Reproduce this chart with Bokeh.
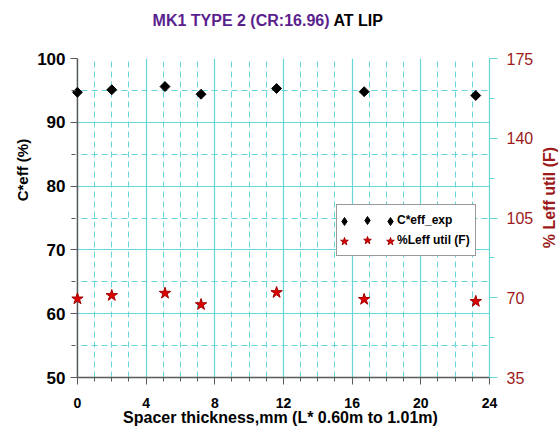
import math
from bokeh.plotting import figure
from bokeh.layouts import column, row
from bokeh.models import (Range1d, LinearAxis, FixedTicker, Legend,
                          LegendItem, ColumnDataSource, BoxAnnotation, Span)
from bokeh.core.properties import value
from bokeh.embed import file_html
from bokeh.resources import INLINE

# ---------------- data ----------------
title_main = "MK1 TYPE 2 (CR:16.96)"
title_tail = "AT LIP"
x_label = "Spacer thickness,mm (L* 0.60m to 1.01m)"
y_label = "C*eff (%)"
y2_label = "% Leff util (F)"
series_names = ["C*eff_exp", "%Leff util (F)"]

spacer_mm = [0, 2, 5.1, 7.2, 11.6, 16.7, 23.2]
c_eff_exp = [94.7, 95.1, 95.6, 94.4, 95.3, 94.8, 94.2]
leff_util = [69.5, 71.0, 72.0, 67.0, 72.3, 69.3, 68.4]

x_ticks = [0, 4, 8, 12, 16, 20, 24]
y_ticks = [50, 60, 70, 80, 90, 100]
y2_ticks = [35, 70, 105, 140, 175]

# ---------------- style / layout ----------------
CYAN = "#66d6da"
AXIS_GRAY = "#5a5a5a"
DARK_RED = "#9c1a1a"
PURPLE = "#5b1f8e"
STAR_FILL = "#dd0000"
STAR_LINE = "#a00000"
FONT = "Liberation Sans"

W, H = 560, 436
TITLE_H = 30
LEFT_W = 34
RIGHT_W = 24
MID_H = H - TITLE_H
PX_PER_UNIT = 417 / 24.0
PAD_PX = 6
pad_units = PAD_PX / PX_PER_UNIT

FRAME_LEFT = 70      # page px (includes pad)
FRAME_RIGHT = 493
FRAME_TOP = 58
FRAME_BOTTOM = 377


def lx(px):
    return px - FRAME_LEFT


def ly(py):
    return FRAME_BOTTOM - py


def strip(w, h):
    f = figure(width=w, height=h, output_backend="svg", toolbar_location=None,
               x_range=Range1d(0, w), y_range=Range1d(0, h),
               x_axis_type=None, y_axis_type=None,
               min_border=0, min_border_left=0, min_border_right=0,
               min_border_top=0, min_border_bottom=0)
    f.outline_line_color = None
    f.grid.visible = False
    f.background_fill_color = "white"
    f.border_fill_color = "white"
    return f


x_minor = [v for v in range(x_ticks[0], x_ticks[-1] + 1) if v not in x_ticks]
y_minor = [(a + b) / 2 for a, b in zip(y_ticks[:-1], y_ticks[1:])]
y2_minor = [(a + b) / 2 for a, b in zip(y2_ticks[:-1], y2_ticks[1:])]

# ---------------- title strip ----------------
tf = strip(W, TITLE_H)
tf.text(x=[329], y=[TITLE_H - 20], text=[title_main], text_font=value(FONT),
        text_font_style="bold", text_font_size="16px", text_color=PURPLE,
        text_align="right", text_baseline="middle")
tf.text(x=[333], y=[TITLE_H - 20], text=[title_tail], text_font=value(FONT),
        text_font_style="bold", text_font_size="16px", text_color="black",
        text_align="left", text_baseline="middle")

# ---------------- side strips with the y-axis titles ----------------
lf = strip(LEFT_W, MID_H)
lf.text(x=[22], y=[H - 172], text=[y_label], text_font=value(FONT),
        text_font_style="bold", text_font_size="15px", text_color="black",
        angle=math.pi / 2, text_align="center", text_baseline="middle")

rf = strip(RIGHT_W, MID_H)
rf.text(x=[549 - (W - RIGHT_W)], y=[H - 207], text=[y2_label],
        text_font=value(FONT), text_font_style="bold", text_font_size="16px",
        text_color=DARK_RED, angle=math.pi / 2,
        text_align="center", text_baseline="middle")

# ---------------- main plot ----------------
p = figure(width=W - LEFT_W - RIGHT_W, height=MID_H, output_backend="svg",
           toolbar_location=None,
           x_range=Range1d(-pad_units, x_ticks[-1]),
           y_range=Range1d(y_ticks[0], y_ticks[-1]),
           min_border_left=FRAME_LEFT - LEFT_W,
           min_border_right=(W - RIGHT_W) - FRAME_RIGHT,
           min_border_top=FRAME_TOP - TITLE_H,
           min_border_bottom=H - FRAME_BOTTOM)
p.outline_line_color = None
p.background_fill_color = "white"
p.border_fill_color = "white"
p.extra_y_ranges = {"right": Range1d(y2_ticks[0], y2_ticks[-1])}

xt = FixedTicker(ticks=x_ticks, minor_ticks=x_minor)
yt = FixedTicker(ticks=y_ticks, minor_ticks=y_minor)
p.xaxis.ticker = xt
p.yaxis.ticker = yt
p.xgrid.ticker = xt
p.ygrid.ticker = yt
for g in (p.xgrid, p.ygrid):
    g.grid_line_color = CYAN
    g.grid_line_width = 1.2
    g.minor_grid_line_color = CYAN
    g.minor_grid_line_width = 1
    g.minor_grid_line_dash = "6 4"

# white strip left of x=0 and the y-axis line drawn at x=0
p.add_layout(BoxAnnotation(right=0, fill_color="white", fill_alpha=1,
                           line_color=None, level="underlay"))
p.add_layout(Span(location=0, dimension="height", line_color=AXIS_GRAY,
                  line_width=1.5, level="underlay"))

# bottom axis
xa = p.xaxis[0]
xa.bounds = (x_ticks[0], x_ticks[-1])
xa.axis_line_color = AXIS_GRAY
xa.axis_line_width = 1.5
xa.major_tick_line_color = AXIS_GRAY
xa.minor_tick_line_color = AXIS_GRAY
xa.major_tick_out = 7
xa.major_tick_in = 0
xa.minor_tick_out = 4
xa.minor_tick_in = 0
xa.major_label_text_font = FONT
xa.major_label_text_font_style = "bold"
xa.major_label_text_font_size = "14px"
xa.major_label_text_color = "black"
xa.major_label_standoff = 13
xa.axis_label = x_label
xa.axis_label_text_font = FONT
xa.axis_label_text_font_style = "bold"
xa.axis_label_text_font_size = "16px"
xa.axis_label_text_color = "black"
xa.axis_label_standoff = -2

# left axis (frame edge sits PAD_PX left of x=0)
ya = p.yaxis[0]
ya.axis_line_color = None
ya.major_tick_line_color = AXIS_GRAY
ya.minor_tick_line_color = AXIS_GRAY
ya.major_tick_line_width = 1.2
ya.major_tick_out = 1
ya.major_tick_in = PAD_PX
ya.minor_tick_out = 0
ya.minor_tick_in = PAD_PX - 2
ya.major_label_text_font = FONT
ya.major_label_text_font_style = "bold"
ya.major_label_text_font_size = "17px"
ya.major_label_text_color = "black"
ya.major_label_standoff = 5

# right axis
ra = LinearAxis(y_range_name="right",
                ticker=FixedTicker(ticks=y2_ticks, minor_ticks=y2_minor))
ra.axis_line_color = CYAN
ra.axis_line_width = 1.2
ra.major_tick_line_color = CYAN
ra.minor_tick_line_color = CYAN
ra.major_tick_out = 8
ra.major_tick_in = 0
ra.minor_tick_out = 5
ra.minor_tick_in = 0
ra.major_label_text_font = FONT
ra.major_label_text_font_size = "16px"
ra.major_label_text_color = DARK_RED
ra.major_label_standoff = 9
p.add_layout(ra, "right")

# data
src = ColumnDataSource(dict(x=spacer_mm, c=c_eff_exp, f=leff_util))
r_d = p.scatter(x="x", y="c", source=src, marker="square", angle=math.pi / 4,
                size=7, fill_color="black", line_color="black")
r_s = p.scatter(x="x", y="f", source=src, marker="star", size=12,
                fill_color=STAR_FILL, line_color=STAR_LINE,
                y_range_name="right")
# same series as a diamond glyph, hidden in the plot, used for the legend swatch
r_dl = p.scatter(x="x", y="c", source=src, marker="diamond", size=10,
                 fill_color="black", line_color="black", visible=False)

leg_main = Legend(items=[LegendItem(label=value(series_names[0]), renderers=[r_dl]),
                         LegendItem(label=value(series_names[1]), renderers=[r_s])],
                  location=(lx(335), ly(256)), orientation="vertical",
                  glyph_width=50, glyph_height=20, spacing=-5, padding=5,
                  margin=0, label_standoff=5,
                  label_text_font=FONT, label_text_font_style="bold",
                  label_text_font_size="12px", label_text_color="black",
                  border_line_color="#333333", border_line_width=1,
                  background_fill_color="white", background_fill_alpha=1)
p.add_layout(leg_main)
for px in (333, 379):
    leg = Legend(items=[LegendItem(label=value(" "), renderers=[r_dl]),
                        LegendItem(label=value(" "), renderers=[r_s])],
                 location=(lx(px), ly(251)), orientation="vertical",
                 glyph_width=20, glyph_height=20, spacing=-5, padding=0,
                 margin=0, label_standoff=0, label_width=0,
                 label_text_font_size="2px",
                 border_line_color=None, background_fill_alpha=0)
    p.add_layout(leg)

layout = column(tf, row(lf, p, rf))
open("out.html", "w").write(file_html(layout, INLINE))
